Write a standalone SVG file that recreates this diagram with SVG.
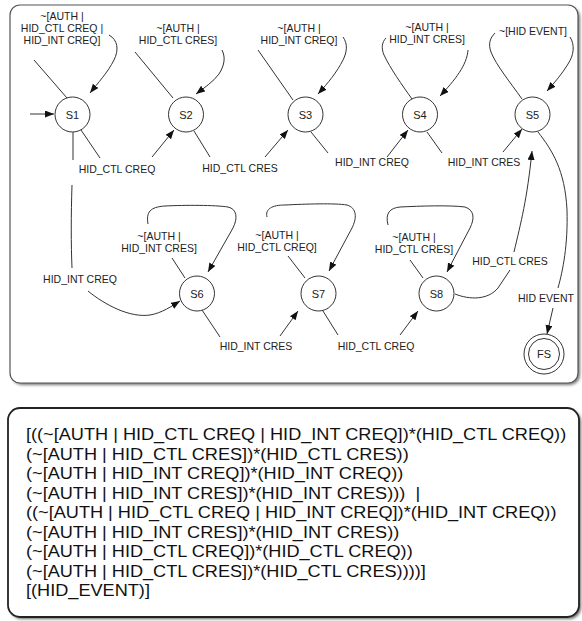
<svg xmlns="http://www.w3.org/2000/svg" width="582" height="621" viewBox="0 0 582 621">
<style>
.panel{fill:#fff}
.c{stroke:#333;stroke-width:1;fill:none}
.a{stroke:#333;stroke-width:1;fill:none;marker-end:url(#ah)}
.n{fill:#fff;stroke:#333;stroke-width:1}
.t{font-family:"Liberation Sans",Arial,sans-serif;font-size:10.5px;fill:#222;text-anchor:middle}
.nl{font-family:"Liberation Sans",Arial,sans-serif;font-size:11px;fill:#222;text-anchor:middle}
.re{font-family:"Liberation Sans",Arial,sans-serif;font-size:16.5px;fill:#111}
</style>
<defs>
<marker id="ah" markerUnits="userSpaceOnUse" markerWidth="10" markerHeight="8" refX="9" refY="3.5" orient="auto">
<path d="M0,0 L9,3.5 L0,7 z" fill="#111"/>
</marker>
<filter id="sh" x="-5%" y="-5%" width="110%" height="110%">
<feGaussianBlur stdDeviation="1.5"/>
</filter>
</defs>
<rect width="582" height="621" fill="#fff"/>
<g id="panel-top">
<rect x="12" y="7" width="568" height="378" rx="10" fill="#777" filter="url(#sh)"/>
<rect class="panel" x="10" y="5" width="568" height="378" rx="10" stroke="#555" stroke-width="1.2"/>
</g>
<g id="panel-bottom">
<rect x="10" y="410" width="571" height="209" rx="12" fill="#666" filter="url(#sh)"/>
<rect class="panel" x="8" y="408" width="571" height="209" rx="12" stroke="#222" stroke-width="1.8"/>
</g>
<g id="connectors">
<path class="a" d="M30,114 L54,114"/>
<path class="c" d="M67,98 L34,60"/>
<path class="a" d="M109,35 C118,40 119,50 114,60 C108,72 98,83 90,93"/>
<path class="c" d="M173,98 L135,52"/>
<path class="a" d="M222,50 C226,58 224,66 219,74 C213,82 204,88 196,94"/>
<path class="c" d="M293,100 L258,50"/>
<path class="a" d="M343,37 C348,44 347,52 343,60 C337,72 328,83 318,94"/>
<path class="c" d="M412,99 C402,85 390,68 384,55 C381,48 382,42 386,38"/>
<path class="a" d="M468,50 C467,65 455,80 440,96"/>
<path class="c" d="M522,99 C510,82 496,65 491,52 C488,44 490,38 495,33"/>
<path class="a" d="M570,37 C575,45 574,55 568,64 C562,74 555,82 547,91"/>
<path class="c" d="M81,130 L100,158"/>
<path class="a" d="M152,157 L174,130"/>
<path class="c" d="M194,131 L210,157"/>
<path class="a" d="M265,157 L288,130"/>
<path class="c" d="M311,132 L328,153"/>
<path class="a" d="M387,157 L408,130"/>
<path class="c" d="M427,132 L442,153"/>
<path class="a" d="M503,152 L522,129"/>
<path class="c" d="M73,132 L73,160"/>
<path class="c" d="M72,185 C71,215 71,245 72,268"/>
<path class="a" d="M88,291 C105,305 130,318 150,315 C162,313 172,306 180,301"/>
<path class="c" d="M148,224 C146,212 150,207 165,206 C185,205 215,205 228,207 C237,209 238,218 233,228"/>
<path class="a" d="M233,228 L208,272"/>
<path class="c" d="M172,258 L185,278"/>
<path class="c" d="M267,217 C265,209 272,205 285,205 C305,204 335,203 347,205 C357,208 357,218 352,228"/>
<path class="a" d="M352,228 L329,271"/>
<path class="c" d="M288,256 L305,278"/>
<path class="c" d="M388,225 C385,213 390,208 400,207 C420,206 450,205 465,207 C474,210 475,218 470,228"/>
<path class="a" d="M470,228 L447,272"/>
<path class="c" d="M410,260 L423,278"/>
<path class="c" d="M202,310 L220,337"/>
<path class="a" d="M280,336 L298,311"/>
<path class="c" d="M323,311 L338,335"/>
<path class="a" d="M400,335 L418,311"/>
<path class="c" d="M455,294 C470,300 488,300 498,288 L510,270"/>
<path class="a" d="M514,252 C521,222 527,200 532,151"/>
<path class="c" d="M538,132 C552,150 565,170 567,210 C568,245 563,270 558,288"/>
<path class="a" d="M553,308 L547,334"/>
</g>
<g id="labels">
<text class="t" x="62" y="20">~[AUTH |</text>
<text class="t" x="62" y="32">HID_CTL CREQ |</text>
<text class="t" x="62" y="44">HID_INT CREQ]</text>
<text class="t" x="178" y="32">~[AUTH |</text>
<text class="t" x="178" y="44">HID_CTL CRES]</text>
<text class="t" x="299" y="32">~[AUTH |</text>
<text class="t" x="299" y="44">HID_INT CREQ]</text>
<text class="t" x="427" y="31">~[AUTH |</text>
<text class="t" x="427" y="43">HID_INT CRES]</text>
<text class="t" x="533" y="35">~[HID EVENT]</text>
<text class="t" x="117" y="173">HID_CTL CREQ</text>
<text class="t" x="240" y="172">HID_CTL CRES</text>
<text class="t" x="372" y="166">HID_INT CREQ</text>
<text class="t" x="484" y="166">HID_INT CRES</text>
<text class="t" x="80" y="283">HID_INT CREQ</text>
<text class="t" x="159" y="240">~[AUTH |</text>
<text class="t" x="159" y="252">HID_INT CRES]</text>
<text class="t" x="277" y="239">~[AUTH |</text>
<text class="t" x="277" y="251">HID_CTL CREQ]</text>
<text class="t" x="414" y="241">~[AUTH |</text>
<text class="t" x="414" y="253">HID_CTL CRES]</text>
<text class="t" x="510" y="265">HID_CTL CRES</text>
<text class="t" x="546" y="302">HID EVENT</text>
<text class="t" x="256" y="350">HID_INT CRES</text>
<text class="t" x="376" y="350">HID_CTL CREQ</text>
</g>
<g id="S1"><circle class="n" cx="72.5" cy="114.5" r="17.5"/><text class="nl" x="72.5" y="118.5">S1</text></g>
<g id="S2"><circle class="n" cx="186" cy="114.5" r="17.5"/><text class="nl" x="186" y="118.5">S2</text></g>
<g id="S3"><circle class="n" cx="305.5" cy="114.5" r="17.5"/><text class="nl" x="305.5" y="118.5">S3</text></g>
<g id="S4"><circle class="n" cx="420" cy="114.5" r="17.5"/><text class="nl" x="420" y="118.5">S4</text></g>
<g id="S5"><circle class="n" cx="532.5" cy="114.5" r="17.5"/><text class="nl" x="532.5" y="118.5">S5</text></g>
<g id="S6"><circle class="n" cx="197" cy="293.5" r="17.5"/><text class="nl" x="197" y="297.5">S6</text></g>
<g id="S7"><circle class="n" cx="318.5" cy="293.5" r="17.5"/><text class="nl" x="318.5" y="297.5">S7</text></g>
<g id="S8"><circle class="n" cx="436.5" cy="293.5" r="17.5"/><text class="nl" x="436.5" y="297.5">S8</text></g>
<g id="FS"><circle class="n" cx="544" cy="354" r="20" stroke-width="2.2"/><circle class="n" cx="544" cy="354" r="15.5"/><text class="nl" x="544" y="358">FS</text></g>
<g id="expression" transform="translate(26,0) scale(1.1,1)">
<text class="re" x="0" y="440.5">[((~[AUTH | HID_CTL CREQ | HID_INT CREQ])*(HID_CTL CREQ))</text>
<text class="re" x="0" y="460">(~[AUTH | HID_CTL CRES])*(HID_CTL CRES))</text>
<text class="re" x="0" y="479.5">(~[AUTH | HID_INT CREQ])*(HID_INT CREQ))</text>
<text class="re" x="0" y="499">(~[AUTH | HID_INT CRES])*(HID_INT CRES)))&#160;&#160;|</text>
<text class="re" x="0" y="518.5">((~[AUTH | HID_CTL CREQ | HID_INT CREQ])*(HID_INT CREQ))</text>
<text class="re" x="0" y="538">(~[AUTH | HID_INT CRES])*(HID_INT CRES))</text>
<text class="re" x="0" y="557.5">(~[AUTH | HID_CTL CREQ])*(HID_CTL CREQ))</text>
<text class="re" x="0" y="577">(~[AUTH | HID_CTL CRES])*(HID_CTL CRES))))]</text>
<text class="re" x="0" y="596.5">[(HID_EVENT)]</text>
</g>
</svg>
